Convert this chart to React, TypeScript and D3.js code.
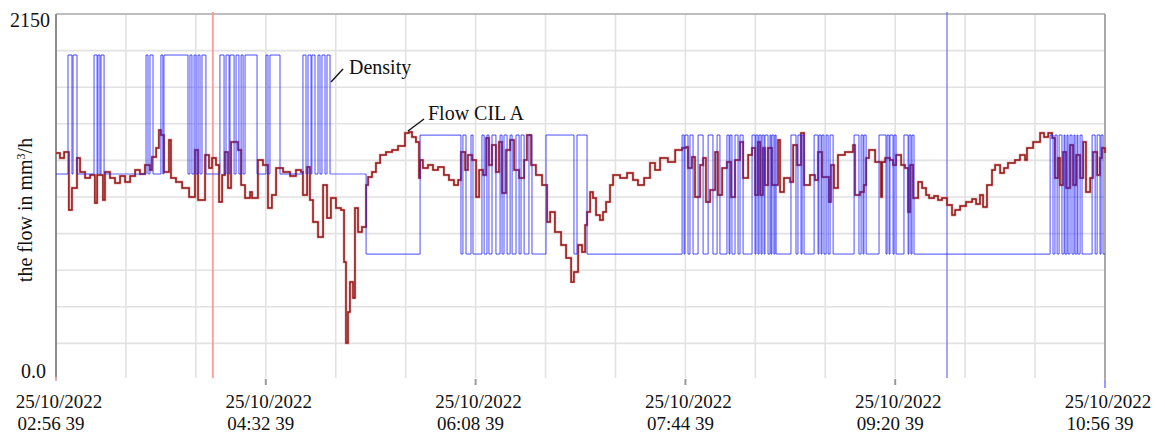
import React from "react";
import * as d3 from "d3";

// ---------- data ----------
const TOTAL_MINUTES = 480;
const Y_MAX = 2150;

const xTickMinutes = [0, 96, 192, 288, 384, 480];
const xTickDates = ["25/10/2022", "25/10/2022", "25/10/2022", "25/10/2022", "25/10/2022", "25/10/2022"];
const xTickTimes = ["02:56 39", "04:32 39", "06:08 39", "07:44 39", "09:20 39", "10:56 39"];
const xGridMinutes = [0, 32, 64, 96, 128, 160, 192, 224, 256, 288, 320, 352, 384, 416, 448, 480];
const yGridValues = [215, 430, 645, 860, 1075, 1290, 1505, 1720, 1935];
const yTickValues = [0, 2150];
const yTickLabels = ["0.0", "2150"];

// cursors (minutes from start)
const redCursorMinute = 71.8;
const blueCursorMinute = 407.7;

// Flow CIL A : [minute, value]
const flowData: [number, number][] = [
  [0, 1333], [1.8, 1304], [3.7, 1339], [5.9, 999], [7.3, 1128], [9.6, 1304], [11.0, 1222], [13.3, 1187],
  [15.6, 1204], [17.8, 1040], [18.8, 1204], [21.5, 1057], [22.4, 1222], [24.7, 1187], [27.0, 1157], [29.3, 1198],
  [31.6, 1163], [33.9, 1198], [36.2, 1234], [38.4, 1210], [40.7, 1263], [43.0, 1234], [43.9, 1310], [45.8, 1363],
  [47.1, 1468], [48.0, 1439], [49.4, 1222], [51.7, 1410], [52.6, 1187], [54.9, 1163], [57.7, 1128], [60.9, 1075],
  [63.6, 1351], [65.0, 1057], [68.2, 1322], [70.0, 1245], [71.4, 1304], [73.2, 1263], [74.6, 1046], [76.0, 1204],
  [77.3, 1339], [78.7, 1128], [80.1, 1398], [83.3, 1351], [84.7, 1145], [86.5, 1069], [88.8, 1104], [89.7, 1069],
  [92.4, 1292], [94.7, 1263], [97.0, 1010], [98.8, 1087], [100.7, 1245], [103.9, 1222], [107.1, 1198], [109.8, 1234],
  [112.1, 1222], [113.0, 1087], [114.9, 1251], [116.2, 1057], [117.6, 928], [119.9, 840], [122.2, 1145], [124.0, 952],
  [125.8, 1069], [128.1, 1010], [130.4, 999], [131.8, 693], [132.7, 217], [133.6, 399], [134.5, 576], [135.9, 482],
  [136.8, 1010], [138.2, 869], [140.0, 899], [141.9, 1145], [142.8, 1192], [144.6, 1222], [146.4, 1275], [148.3, 1322],
  [151.0, 1339], [153.8, 1351], [156.5, 1375], [159.7, 1451], [161.5, 1457], [162.9, 1427], [164.7, 1398], [166.1, 1187],
  [166.6, 1292], [167.9, 1245], [170.2, 1263], [172.5, 1234], [174.8, 1251], [177.5, 1204], [179.8, 1175], [182.1, 1145],
  [184.0, 1175], [185.3, 1339], [187.2, 1234], [188.5, 1322], [190.4, 1292], [192.2, 1075], [193.6, 1234], [195.4, 1204],
  [196.8, 1422], [198.1, 1263], [199.5, 1380], [201.3, 1222], [202.7, 1398], [204.1, 1098], [205.9, 1351], [207.8, 1410],
  [209.6, 1234], [211.9, 1187], [214.2, 1292], [215.5, 1439], [217.4, 1263], [219.6, 1204], [222.4, 1145], [224.7, 928],
  [226.1, 987], [228.3, 869], [231.1, 793], [233.4, 717], [235.7, 576], [237.0, 634], [238.9, 793], [240.7, 752],
  [242.1, 910], [243.0, 987], [244.4, 1104], [245.7, 1069], [247.1, 969], [248.9, 940], [250.3, 987], [251.7, 1046],
  [253.5, 1145], [254.9, 1204], [258.1, 1187], [261.3, 1216], [264.0, 1175], [266.3, 1145], [269.1, 1187], [271.8, 1275],
  [274.1, 1234], [276.4, 1304], [280.0, 1281], [283.3, 1351], [286.5, 1363], [288.3, 1369], [289.2, 1245], [291.0, 1310],
  [292.4, 1075], [294.7, 1263], [296.1, 1304], [297.4, 1046], [299.3, 1116], [301.6, 1339], [302.9, 1087], [304.8, 1245],
  [307.0, 1281], [308.9, 1075], [310.7, 1292], [313.0, 1398], [314.4, 1187], [316.7, 1322], [318.5, 1363], [319.9, 1087],
  [321.2, 1398], [322.2, 1087], [323.5, 1363], [324.4, 1145], [325.8, 1363], [327.6, 1145], [330.4, 1410], [331.3, 1104],
  [333.1, 1187], [335.9, 1163], [337.3, 1380], [339.1, 1263], [340.9, 1451], [342.3, 1145], [345.0, 1204], [347.3, 1175],
  [348.7, 1339], [350.5, 1192], [353.7, 1046], [354.6, 1263], [356.0, 1128], [357.8, 1322], [361.0, 1339], [364.7, 1380],
  [365.6, 1087], [367.9, 1104], [369.7, 1145], [370.7, 1304], [372.0, 1351], [374.8, 1281], [377.5, 1075], [378.0, 1281],
  [379.4, 1304], [381.6, 1292], [383.0, 1263], [384.4, 1322], [386.7, 1263], [388.5, 1245], [389.9, 987], [390.8, 1263],
  [392.2, 1069], [394.5, 1163], [396.3, 1128], [398.1, 1087], [399.5, 1069], [401.8, 1081], [403.6, 1057], [405.4, 1069],
  [407.7, 1028], [410.0, 969], [411.4, 999], [413.7, 1022], [416.4, 1046], [419.2, 1063], [421.0, 1034], [422.8, 1087],
  [424.2, 1016], [426.0, 1145], [428.3, 1234], [429.7, 1263], [432.0, 1216], [433.8, 1245], [435.6, 1275], [438.8, 1292],
  [441.1, 1322], [443.4, 1292], [444.3, 1363], [447.1, 1398], [450.3, 1451], [452.1, 1427], [454.0, 1451], [455.8, 1422],
  [457.1, 1187], [458.5, 1304], [459.4, 1145], [460.8, 1339], [462.2, 1128], [464.0, 1380], [465.4, 1145], [466.8, 1322],
  [468.6, 1187], [470.0, 1398], [471.3, 1104], [473.2, 1187], [474.5, 1339], [476.4, 1204], [477.7, 1304], [478.6, 1363],
  [480, 1333],
];

// Density: levels and "high" pulses [start minute, end minute]
const densityLevelChangeMinute = 141.9;
const densityLowBefore = 1210;
const densityHighBefore = 1909;
const densityLowAfter = 740;
const densityHighAfter = 1439;
const densityPulses: [number, number][] = [
  [5.5, 7.3], [7.8, 9.6], [17.4, 18.8], [19.2, 20.1], [20.6, 22.0], [41.2, 42.1], [43.0, 44.4], [48.0, 48.9],
  [49.4, 60.4], [61.3, 62.2], [63.2, 64.1], [65.0, 65.9], [66.8, 68.6], [75.0, 76.9], [77.8, 79.2], [79.6, 81.5],
  [82.4, 83.7], [84.7, 85.6], [86.5, 92.0], [96.1, 97.0], [97.9, 102.5], [113.0, 114.4], [115.3, 116.7], [117.1, 118.5],
  [119.9, 120.8], [121.7, 123.1], [124.0, 125.4],
  [166.6, 185.3], [186.2, 187.6], [189.9, 190.8], [194.9, 195.9], [197.2, 198.1], [199.5, 201.3], [203.2, 204.1],
  [205.0, 206.4], [207.8, 208.7], [210.5, 211.9], [212.8, 214.2], [216.4, 217.8], [224.2, 237.0], [238.4, 243.0],
  [286.5, 287.4], [287.8, 289.2], [290.1, 291.5], [293.8, 296.1], [298.4, 300.6], [302.5, 303.8], [307.0, 308.0],
  [308.4, 309.3], [310.7, 312.1], [313.0, 314.4], [318.5, 319.9], [320.3, 321.2], [321.7, 322.6], [323.1, 324.0],
  [324.4, 325.8], [326.7, 327.2], [327.6, 328.5], [329.0, 329.5], [336.3, 338.6], [339.5, 340.9], [341.4, 342.3],
  [346.9, 348.7], [349.1, 350.1], [350.5, 351.4], [352.4, 353.3], [354.2, 355.6], [365.2, 367.4], [368.4, 369.3],
  [369.7, 370.7], [376.6, 379.8], [380.3, 381.2], [381.6, 383.0], [383.5, 384.4], [388.0, 389.9], [390.3, 391.2],
  [391.7, 392.6], [454.9, 456.2], [457.1, 458.1], [459.0, 460.3], [461.3, 461.7], [462.6, 463.1], [464.0, 464.9],
  [465.8, 466.3], [467.2, 467.6], [468.6, 469.5], [474.1, 475.5], [476.4, 477.7], [478.2, 479.1],
];

// ---------- layout ----------
const W = 1165;
const H = 434;
const LEFT = 56;
const RIGHT = 1105;
const TOP = 14;
const BOTTOM = 380;
const FONT = "'Liberation Serif', 'Times New Roman', serif";

function buildDensity(): [number, number][] {
  const low = (m: number) => (m < densityLevelChangeMinute ? densityLowBefore : densityLowAfter);
  const high = (m: number) => (m < densityLevelChangeMinute ? densityHighBefore : densityHighAfter);
  const out: [number, number][] = [[0, low(0)]];
  let changed = false;
  for (const [s, e] of densityPulses) {
    if (!changed && s > densityLevelChangeMinute) {
      out.push([densityLevelChangeMinute, densityLowAfter]);
      changed = true;
    }
    out.push([s, high(s)]);
    out.push([e, low(e)]);
  }
  out.push([TOTAL_MINUTES, low(TOTAL_MINUTES)]);
  return out;
}

export default function App() {
  const x = d3.scaleLinear().domain([0, TOTAL_MINUTES]).range([LEFT, RIGHT]);
  const y = d3.scaleLinear().domain([0, Y_MAX]).range([BOTTOM, TOP]);

  const stepLine = d3
    .line<[number, number]>()
    .x((d) => x(d[0]))
    .y((d) => y(d[1]))
    .curve(d3.curveStepAfter);

  const density = buildDensity();
  const flowPath = stepLine(flowData) || "";

  // individual segments of density, so overlapping strokes accumulate
  const densSegs: { x1: number; y1: number; x2: number; y2: number }[] = [];
  for (let i = 0; i < density.length - 1; i++) {
    const [m0, v0] = density[i];
    const [m1, v1] = density[i + 1];
    densSegs.push({ x1: x(m0), y1: y(v0), x2: x(m1), y2: y(v0) });
    if (v1 !== v0) densSegs.push({ x1: x(m1), y1: y(v0), x2: x(m1), y2: y(v1) });
  }

  return (
    <svg
      width={W}
      height={H}
      style={{ position: "absolute", left: 0, top: 0, background: "#fff" }}
      fontFamily={FONT}
    >
      <rect x={0} y={0} width={W} height={H} fill="#fff" />
      {/* grid */}
      {yGridValues.map((v) => (
        <line key={"hy" + v} x1={LEFT} x2={RIGHT} y1={y(v)} y2={y(v)} stroke="#e2e2e2" strokeWidth={1.6} />
      ))}
      {xGridMinutes.map((m) => (
        <line key={"vx" + m} x1={x(m)} x2={x(m)} y1={TOP} y2={BOTTOM - 2} stroke="#e2e2e2" strokeWidth={1.6} />
      ))}
      {/* frame */}
      <line x1={LEFT} x2={RIGHT} y1={TOP} y2={TOP} stroke="#a8a8a8" strokeWidth={1.6} />
      <line x1={RIGHT} x2={RIGHT} y1={TOP} y2={BOTTOM} stroke="#9a9a9a" strokeWidth={1.6} />
      <line x1={LEFT} x2={LEFT} y1={TOP} y2={BOTTOM - 2} stroke="#8c8c8c" strokeWidth={2} />

      {/* x tick marks */}
      {xTickMinutes.slice(1, -1).map((m) => (
        <line key={"t" + m} x1={x(m)} x2={x(m)} y1={BOTTOM - 1} y2={BOTTOM + 5} stroke="#9a9a9a" strokeWidth={2} />
      ))}
      <line x1={x(0)} x2={x(0)} y1={BOTTOM - 4} y2={BOTTOM + 1} stroke="#d99" strokeWidth={1.5} />
      <line x1={x(TOTAL_MINUTES)} x2={x(TOTAL_MINUTES)} y1={BOTTOM} y2={BOTTOM + 8} stroke="#77f" strokeWidth={1.5} />

      {/* cursors */}
      <line x1={x(redCursorMinute)} x2={x(redCursorMinute)} y1={12} y2={BOTTOM - 2} stroke="#ff8a8a" strokeWidth={1.5} />
      <line x1={x(blueCursorMinute)} x2={x(blueCursorMinute)} y1={12} y2={BOTTOM - 2} stroke="#6a6aff" strokeWidth={1.2} />

      {/* flow */}
      <path d={flowPath} fill="none" stroke="#d08a8a" strokeWidth={2.8} strokeOpacity={0.55} />
      <path d={flowPath} fill="none" stroke="#961414" strokeWidth={1.5} />

      {/* density */}
      <g stroke="#2424ff" strokeOpacity={0.68} strokeWidth={1.2}>
        {densSegs.map((s, i) => (
          <line key={i} x1={s.x1} y1={s.y1} x2={s.x2} y2={s.y2} />
        ))}
      </g>

      {/* y labels */}
      {yTickValues.map((v, i) => (
        <text
          key={"yl" + v}
          x={i === 0 ? 46 : 50}
          y={i === 0 ? 378 : 27}
          textAnchor="end"
          fontSize={20}
          fill="#111"
        >
          {yTickLabels[i]}
        </text>
      ))}
      <text transform={`translate(32,210) rotate(-90)`} textAnchor="middle" fontSize={20} fill="#111">
        the flow in mm<tspan dy={-7} fontSize={12}>3</tspan>
        <tspan dy={7}>/h</tspan>
      </text>

      {/* x labels */}
      {xTickMinutes.map((m, i) => (
        <g key={"xl" + m}>
          <text x={x(m) + 3} y={407.5} textAnchor="middle" fontSize={19} fill="#111">
            {xTickDates[i]}
          </text>
          <text x={x(m) - 5} y={429.5} textAnchor="middle" fontSize={19} fill="#111">
            {xTickTimes[i]}
          </text>
        </g>
      ))}

      {/* annotations */}
      <line x1={331} y1={82} x2={343} y2={69} stroke="#111" strokeWidth={1.4} />
      <text x={349} y={74} fontSize={20} fill="#111">Density</text>
      <line x1={408} y1={131} x2={424} y2={119} stroke="#111" strokeWidth={1.4} />
      <text x={428} y={120} fontSize={20} fill="#111">Flow CIL A</text>
    </svg>
  );
}
